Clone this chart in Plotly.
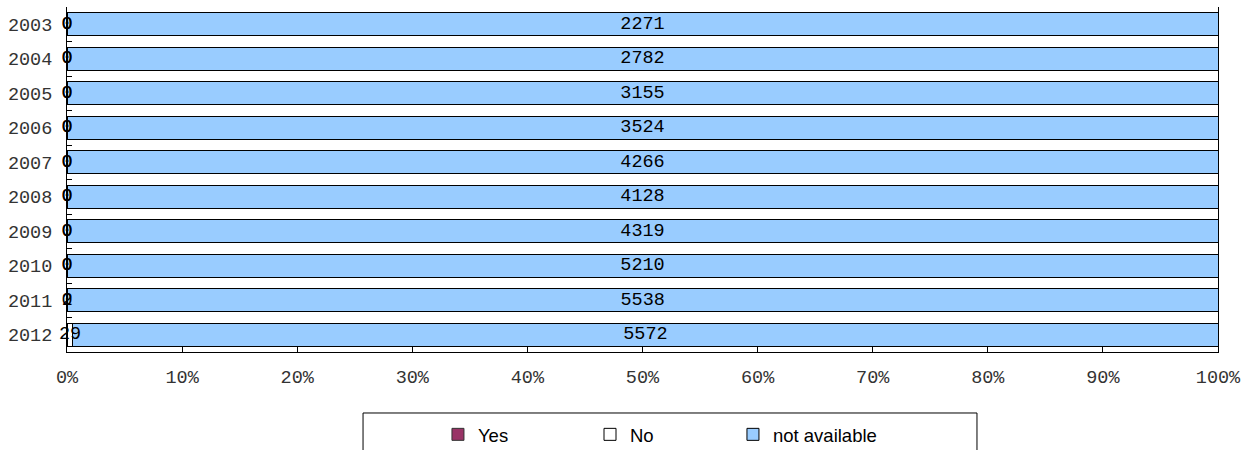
import plotly.graph_objects as go

years = ["2003", "2004", "2005", "2006", "2007", "2008", "2009", "2010", "2011", "2012"]
yes_vals = [0, 0, 0, 0, 0, 0, 0, 0, 0, 0]
no_vals = [0, 0, 0, 0, 0, 0, 0, 0, 2, 29]
na_vals = [2271, 2782, 3155, 3524, 4266, 4128, 4319, 5210, 5538, 5572]
x_ticks = [0, 10, 20, 30, 40, 50, 60, 70, 80, 90, 100]
x_tick_labels = [f"{v}%" for v in x_ticks]

mono = "Liberation Mono, Courier New, monospace"
lab_font = dict(family=mono, size=18.5, color="#000000")
tick_font = dict(family=mono, size=18.5, color="#333333")
leg_font = dict(family="Liberation Sans, Arial, sans-serif", size=18.5, color="#000000")

totals = [a + b + c for a, b, c in zip(yes_vals, no_vals, na_vals)]
yes_mid = [100 * (y / 2) / t for y, t in zip(yes_vals, totals)]
no_mid = [100 * (y + n / 2) / t for y, n, t in zip(yes_vals, no_vals, totals)]
na_mid = [100 * (y + n + a / 2) / t for y, n, a, t in zip(yes_vals, no_vals, na_vals, totals)]
yes_text = [str(v) for v in yes_vals[:-1]] + [""]
no_text = [str(v) for v in no_vals]
na_text = [str(v) for v in na_vals]

fig = go.Figure()
fig.add_trace(go.Bar(name="Yes", y=years, x=yes_vals, orientation="h", legend="legend",
                     marker=dict(color="#993366", line=dict(color="#333333", width=1))))
fig.add_trace(go.Bar(name="No", y=years, x=no_vals, orientation="h", legend="legend2",
                     marker=dict(color="#FFFFFF", line=dict(color="#000000", width=1))))
fig.add_trace(go.Bar(name="not available", y=years, x=na_vals, orientation="h", legend="legend3",
                     marker=dict(color="#99CCFF", line=dict(color="#000000", width=1))))
for xs, ts in ((yes_mid, yes_text), (no_mid, no_text), (na_mid, na_text)):
    fig.add_trace(go.Scatter(y=years, x=xs, mode="text", text=ts,
                             textfont=lab_font, showlegend=False, cliponaxis=False,
                             hoverinfo="skip"))

leg_common = dict(orientation="h", xanchor="left", y=-0.185, yanchor="top",
                  borderwidth=0, bgcolor="rgba(0,0,0,0)", font=leg_font)

fig.update_layout(
    width=1254, height=450,
    barmode="stack", barnorm="percent", bargap=0.33,
    plot_bgcolor="#FFFFFF", paper_bgcolor="#FFFFFF",
    margin=dict(l=67, r=36, t=7, b=98, autoexpand=False),
    showlegend=True,
    legend=dict(x=0.3223, **leg_common),
    legend2=dict(x=0.4544, **leg_common),
    legend3=dict(x=0.5786, **leg_common),
    font=dict(family=mono, size=18.5, color="#000000"),
    shapes=[dict(type="rect", xref="paper", yref="paper", x0=0.2572, x1=0.7906,
                 y0=-0.1768, y1=-0.33, line=dict(color="#000000", width=1),
                 fillcolor="rgba(0,0,0,0)", layer="below")],
)
fig.update_xaxes(range=[0, 100], tickvals=x_ticks, ticktext=x_tick_labels, showgrid=False,
                 zeroline=False, showline=True, linecolor="#000000", linewidth=1,
                 ticks="inside", ticklen=5, tickcolor="#000000", automargin=False,
                 ticklabelstandoff=8, tickfont=tick_font)
fig.update_yaxes(type="category", autorange="reversed", showgrid=False, zeroline=False,
                 showline=True, linecolor="#000000", linewidth=1, mirror=True,
                 ticks="inside", ticklen=5, tickcolor="#000000", tickson="boundaries",
                 automargin=False, ticklabelstandoff=10, tickfont=tick_font)

fig.write_html("out.html", config={"displayModeBar": False},
               post_script="document.body.style.margin='0';")
